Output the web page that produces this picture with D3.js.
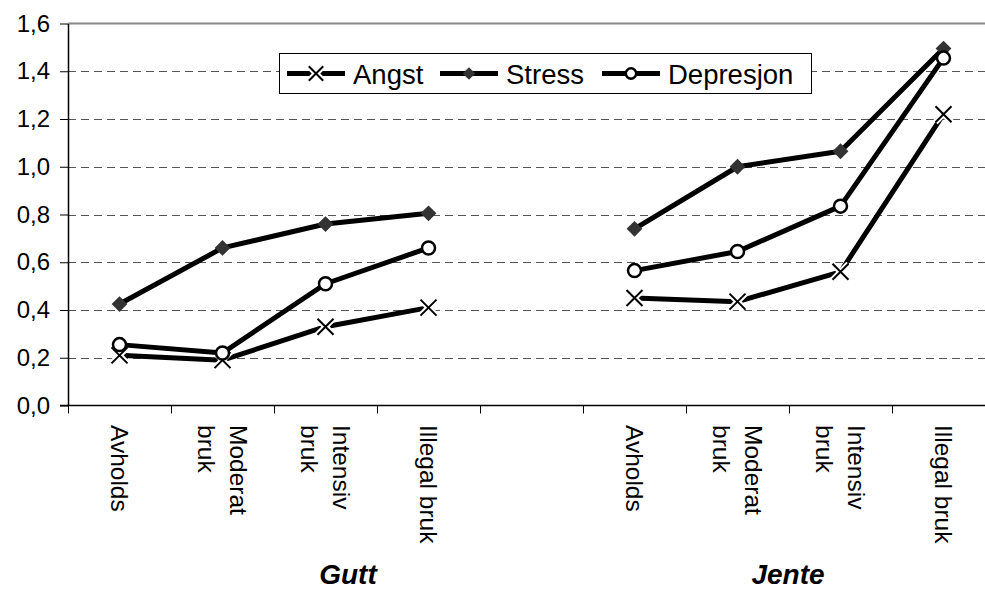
<!DOCTYPE html>
<html>
<head>
<meta charset="utf-8">
<script src="https://cdn.jsdelivr.net/npm/d3@7"></script>
<style>
  html, body { margin: 0; padding: 0; background: #fff; }
  svg { display: block; font-family: "Liberation Sans", Arial, sans-serif; }
</style>
</head>
<body>
<div id="chart"></div>
<script>
const categories = ['Avholds', 'Moderat bruk', 'Intensiv bruk', 'Illegal bruk'];
const categoryLines = [['Avholds'], ['Moderat', 'bruk'], ['Intensiv', 'bruk'], ['Illegal bruk']];
const groups = ['Gutt', 'Jente'];
const seriesNames = ['Angst', 'Stress', 'Depresjon'];

// values per series, one array per group (Gutt, Jente)
const angstGutt = [0.21, 0.19, 0.33, 0.41];
const angstJente = [0.45, 0.435, 0.56, 1.22];
const stressGutt = [0.425, 0.66, 0.76, 0.805];
const stressJente = [0.74, 1.0, 1.065, 1.495];
const depresjonGutt = [0.255, 0.22, 0.51, 0.66];
const depresjonJente = [0.565, 0.645, 0.835, 1.455];

const yTicks = [0, 0.2, 0.4, 0.6, 0.8, 1.0, 1.2, 1.4, 1.6];

const width = 985
    , height = 589
    , plotLeft = 68
    , plotRight = 995
    , plotTop = 23.5
    , plotBottom = 405.5
    ;

const seriesData = {
  Angst: [angstGutt, angstJente],
  Stress: [stressGutt, stressJente],
  Depresjon: [depresjonGutt, depresjonJente]
};

// 9 slots: 4 Gutt, one empty gap, 4 Jente
const slots = [];
groups.forEach((g, gi) => {
  if (gi > 0) slots.push('gap');
  categories.forEach(c => slots.push(g + '|' + c));
});

const x = d3.scaleBand().domain(slots).range([plotLeft, plotRight]);
const y = d3.scaleLinear().domain([0, 1.6]).range([plotBottom, plotTop]);
const cx = key => x(key) + x.bandwidth() / 2;
const fmt = v => d3.format('.1f')(v).replace('.', ',');

const svg = d3.select('#chart').append('svg')
  .attr('width', width)
  .attr('height', height)
  .attr('viewBox', `0 0 ${width} ${height}`);

// gridlines
svg.append('g')
  .selectAll('line')
  .data(yTicks.filter(t => t > 0 && t < 1.6))
  .join('line')
    .attr('x1', plotLeft).attr('x2', width)
    .attr('y1', d => Math.round(y(d)) + 0.5).attr('y2', d => Math.round(y(d)) + 0.5)
    .attr('stroke', '#555')
    .attr('stroke-width', 1)
    .attr('stroke-dasharray', '8,5');

// top border
svg.append('line')
  .attr('x1', plotLeft).attr('x2', width)
  .attr('y1', y(1.6)).attr('y2', y(1.6))
  .attr('stroke', '#888').attr('stroke-width', 2);

// y axis
const yAxis = svg.append('g')
  .attr('transform', `translate(${plotLeft},0)`)
  .call(d3.axisLeft(y).tickValues(yTicks).tickFormat(fmt).tickSizeInner(8).tickSizeOuter(0).tickPadding(10));
yAxis.select('.domain').attr('stroke', '#000').attr('stroke-width', 1.5);
yAxis.selectAll('.tick line').attr('stroke', '#000').attr('stroke-width', 1);
yAxis.selectAll('.tick text')
  .attr('fill', '#000')
  .style('font-size', '24px')
  .style('font-family', '"Liberation Sans", Arial, sans-serif');

// x axis line and boundary ticks
svg.append('line')
  .attr('x1', plotLeft - 8).attr('x2', width)
  .attr('y1', plotBottom).attr('y2', plotBottom)
  .attr('stroke', '#000').attr('stroke-width', 1.5);

svg.append('g')
  .selectAll('line')
  .data(slots)
  .join('line')
    .attr('x1', d => Math.round(x(d)) + 0.5).attr('x2', d => Math.round(x(d)) + 0.5)
    .attr('y1', plotBottom).attr('y2', plotBottom + 8)
    .attr('stroke', '#000').attr('stroke-width', 1);

// rotated category labels
const labelData = [];
groups.forEach(g => categories.forEach((c, i) => labelData.push({ key: g + '|' + c, lines: categoryLines[i] })));

const fs = 24.5, lineGap = 32;
svg.append('g')
  .selectAll('text')
  .data(labelData)
  .join('text')
    .attr('transform', d => {
      const n = d.lines.length;
      const base = cx(d.key) - 0.36 * fs + (n - 1) * lineGap / 2;
      return `translate(${base},${425}) rotate(90)`;
    })
    .style('font-size', fs + 'px')
    .attr('fill', '#000')
    .each(function(d) {
      d3.select(this).selectAll('tspan')
        .data(d.lines)
        .join('tspan')
          .attr('x', 0)
          .attr('y', (l, i) => i * lineGap)
          .text(l => l);
    });

// group labels
const groupX = { Gutt: 348, Jente: 788 };
svg.append('g')
  .selectAll('text')
  .data(groups)
  .join('text')
    .attr('x', d => groupX[d])
    .attr('y', 584)
    .attr('text-anchor', 'middle')
    .style('font-size', '28px')
    .style('font-weight', 'bold')
    .style('font-style', 'italic')
    .text(d => d);

// markers
function drawMarker(sel, name, s) {
  if (name === 'Angst') {
    const h = 8 * s;
    const p = `M${-h},${-h}L${h},${h}M${-h},${h}L${h},${-h}`;
    sel.append('path').attr('d', p).attr('stroke', '#fff').attr('stroke-width', 6).attr('fill', 'none');
    sel.append('path').attr('d', p).attr('stroke', '#000').attr('stroke-width', 2).attr('fill', 'none');
  } else if (name === 'Stress') {
    sel.append('path')
      .attr('d', d3.symbol(d3.symbolSquare, 125 * s * s)())
      .attr('transform', 'rotate(45)')
      .attr('fill', '#333');
  } else {
    sel.append('circle')
      .attr('r', 6.5 * s)
      .attr('fill', '#fff')
      .attr('stroke', '#000')
      .attr('stroke-width', 2.5);
  }
}

const line = d3.line().x(d => d.x).y(d => d.y);

seriesNames.forEach(name => {
  const g = svg.append('g');
  groups.forEach((grp, gi) => {
    const pts = categories.map((c, i) => ({ x: cx(grp + '|' + c), y: y(seriesData[name][gi][i]) }));
    g.append('path')
      .datum(pts)
      .attr('d', line)
      .attr('fill', 'none')
      .attr('stroke', '#000')
      .attr('stroke-width', 5)
      .attr('stroke-linejoin', 'round');
    pts.forEach(p => {
      const m = g.append('g').attr('transform', `translate(${p.x},${p.y})`);
      drawMarker(m, name, 1);
    });
  });
});

// legend
const legend = svg.append('g');
legend.append('rect')
  .attr('x', 279.5).attr('y', 53.5)
  .attr('width', 532).attr('height', 40)
  .attr('fill', '#fff')
  .attr('stroke', '#000')
  .attr('stroke-width', 1);

const legendItems = [
  { name: 'Angst', x0: 287 },
  { name: 'Stress', x0: 440 },
  { name: 'Depresjon', x0: 602 }
];
legendItems.forEach(it => {
  const g = legend.append('g').attr('transform', `translate(${it.x0},73.5)`);
  g.append('line').attr('x1', 0).attr('x2', 58).attr('y1', 0).attr('y2', 0)
    .attr('stroke', '#000').attr('stroke-width', 5);
  const m = g.append('g').attr('transform', 'translate(29,0)');
  drawMarker(m, it.name, it.name === 'Angst' ? 0.9 : 0.8);
  g.append('text')
    .attr('x', 66)
    .attr('y', 10)
    .style('font-size', '27.5px')
    .text(it.name);
});
</script>
</body>
</html>
